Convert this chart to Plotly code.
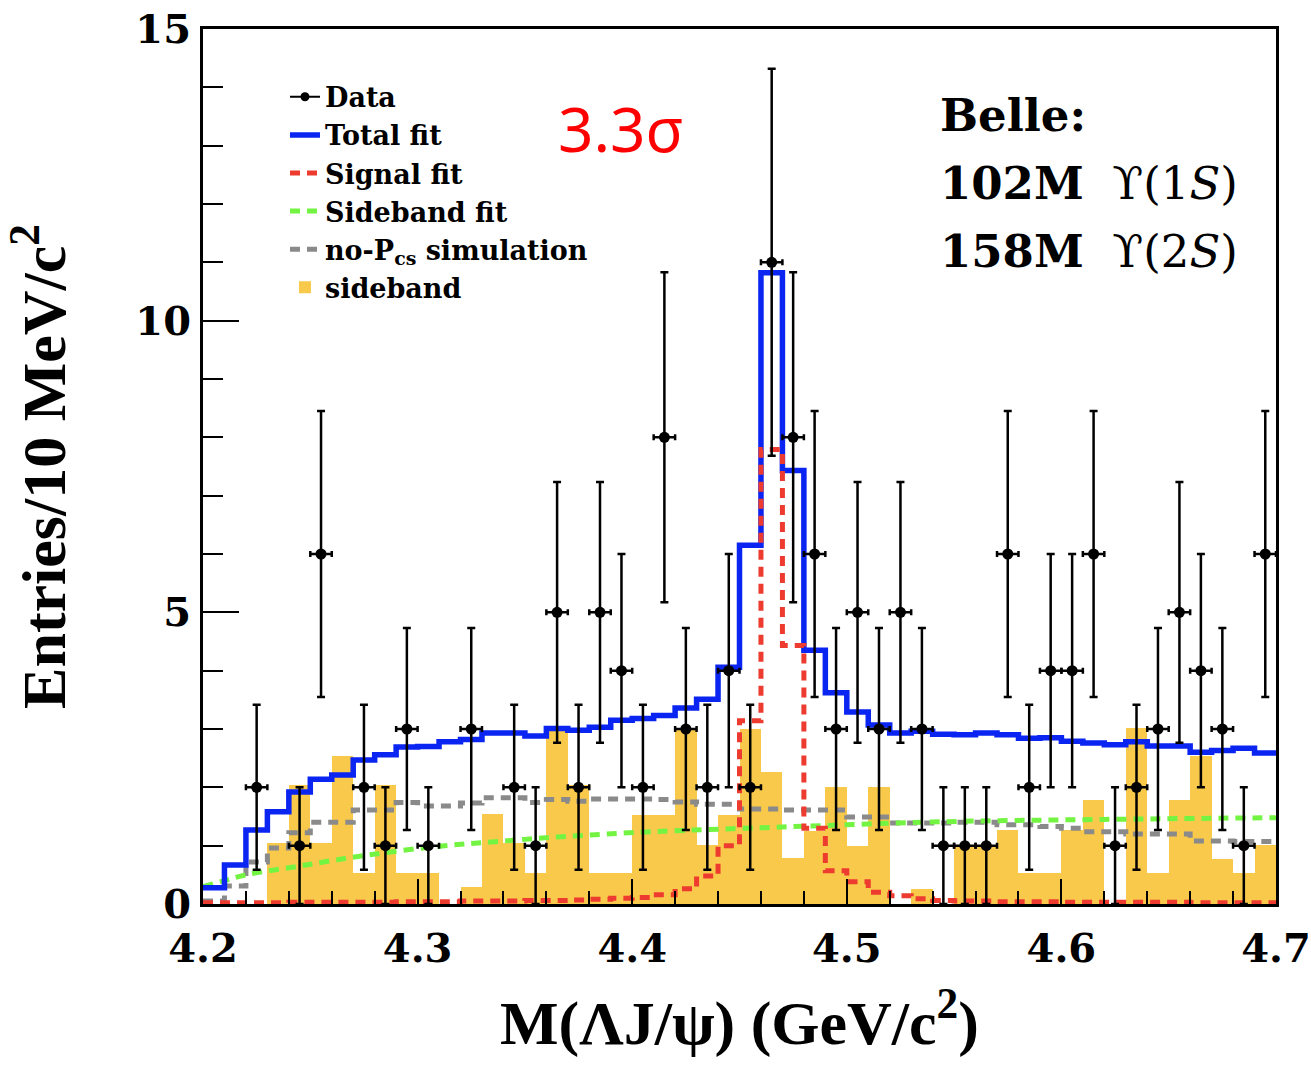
import plotly.graph_objects as go

# ---------------- data ----------------
bin_lo = 4.20
bin_w = 0.01
n_bins = 50

data_counts = [0, 0, 2, 0, 1, 6, 0, 2, 1, 3,
               1, 0, 3, 0, 2, 1, 5, 2, 5, 4,
               2, 8, 3, 2, 4, 2, 11, 8, 6, 3,
               5, 3, 5, 3, 1, 1, 1, 6, 2, 4,
               4, 6, 1, 2, 3, 5, 4, 3, 1, 6]

total_fit = [0.28, 0.67, 1.27, 1.58, 1.92, 2.14, 2.21, 2.47, 2.56, 2.69,
             2.70, 2.78, 2.82, 2.93, 2.93, 2.88, 3.01, 2.98, 3.03, 3.15,
             3.18, 3.23, 3.36, 3.51, 4.06, 6.15, 10.82, 7.43, 4.35, 3.62,
             3.29, 3.07, 2.93, 2.96, 2.91, 2.90, 2.93, 2.90, 2.84, 2.85,
             2.79, 2.76, 2.73, 2.78, 2.71, 2.71, 2.60, 2.63, 2.67, 2.59]

signal_fit = [0.02, 0.02, 0.02, 0.02, 0.03, 0.03, 0.03, 0.03, 0.03, 0.04,
              0.04, 0.04, 0.05, 0.05, 0.05, 0.06, 0.06, 0.07, 0.08, 0.10,
              0.11, 0.16, 0.26, 0.48, 1.00, 3.14, 7.79, 4.43, 1.30, 0.57,
              0.38, 0.20, 0.14, 0.09, 0.06, 0.05, 0.05, 0.04, 0.04, 0.04,
              0.03, 0.03, 0.03, 0.03, 0.03, 0.03, 0.02, 0.02, 0.02, 0.02]

nopcs_sim = [0.05, 0.31, 0.72, 0.96, 1.22, 1.40, 1.40, 1.61, 1.61, 1.74,
             1.68, 1.68, 1.73, 1.82, 1.82, 1.74, 1.79, 1.76, 1.80, 1.80,
             1.80, 1.79, 1.75, 1.71, 1.71, 1.63, 1.63, 1.61, 1.61, 1.61,
             1.49, 1.49, 1.39, 1.39, 1.39, 1.40, 1.40, 1.36, 1.36, 1.33,
             1.30, 1.24, 1.24, 1.20, 1.20, 1.20, 1.08, 1.08, 1.07, 1.07]

sideband = [0, 0, 0, 1.05, 2.04, 1.05, 2.54, 0.54, 2.04, 0.54,
            0.54, 0, 0.30, 1.54, 1.05, 0.54, 2.96, 2.04, 0.54, 0.54,
            1.52, 1.52, 3.01, 1.02, 1.52, 3.00, 2.26, 0.79, 1.26, 2.00,
            1.00, 2.00, 0, 0.26, 0, 1.00, 1.00, 1.27, 0.53, 0.53,
            1.27, 1.78, 0, 3.02, 0.53, 1.78, 2.54, 0.78, 0.53, 1.02]

sbfit_mass = [4.200, 4.210, 4.220, 4.245, 4.275, 4.310, 4.340, 4.370,
              4.410, 4.470, 4.545, 4.620, 4.700]
sbfit_vals = [0.30, 0.40, 0.50, 0.65, 0.83, 0.99, 1.08, 1.16,
              1.24, 1.32, 1.41, 1.45, 1.48]

x_ticks = [4.2, 4.3, 4.4, 4.5, 4.6, 4.7]
x_ticktext = ["4.2", "4.3", "4.4", "4.5", "4.6", "4.7"]
y_ticks = [0, 5, 10, 15]
y_ticktext = ["0", "5", "10", "15"]

# ---------------- derived positions ----------------
edges = [round(bin_lo + i * bin_w, 4) for i in range(n_bins + 1)]
centers = [round(bin_lo + (i + 0.5) * bin_w, 4) for i in range(n_bins)]

def step_y(v):
    return list(v) + [v[-1]]

pts_x = [c for c, n in zip(centers, data_counts) if n > 0]
pts_y = [n for n in data_counts if n > 0]
pts_err = [n ** 0.5 for n in pts_y]

BLUE = "#0A24F2"
RED = "#EE3B30"
GREEN = "#74F442"
GRAY = "#8A8A8A"
ORANGE = "#F8C94A"
DASH = "10px,7px"

fig = go.Figure()

fig.add_trace(go.Bar(
    x=centers, y=sideband, width=bin_w, name="sideband",
    marker=dict(color=ORANGE, line=dict(width=0)), legendrank=6,
))
fig.add_trace(go.Scatter(
    x=edges, y=step_y(nopcs_sim), mode="lines", line_shape="hv",
    line=dict(color=GRAY, width=5, dash=DASH),
    name="no-P<sub>cs</sub> simulation", legendrank=5,
))
fig.add_trace(go.Scatter(
    x=sbfit_mass, y=sbfit_vals, mode="lines", line_shape="spline",
    line=dict(color=GREEN, width=5, dash=DASH),
    name="Sideband fit", legendrank=4,
))
fig.add_trace(go.Scatter(
    x=edges, y=step_y(total_fit), mode="lines", line_shape="hv",
    line=dict(color=BLUE, width=5.5),
    name="Total fit", legendrank=2,
))
fig.add_trace(go.Scatter(
    x=edges, y=step_y(signal_fit), mode="lines", line_shape="hv",
    line=dict(color=RED, width=5, dash=DASH),
    name="Signal fit", legendrank=3,
))
fig.add_trace(go.Scatter(
    x=pts_x, y=pts_y, mode="markers", showlegend=False,
    marker=dict(color="black", size=11, symbol="circle"),
    error_x=dict(type="constant", value=bin_w / 2, color="black",
                 thickness=2.5, width=3),
    error_y=dict(type="data", array=pts_err, color="black",
                 thickness=2.5, width=4),
))
# legend entry for data (line + marker like ROOT)
fig.add_trace(go.Scatter(
    x=[None], y=[None], mode="lines+markers", name="Data",
    line=dict(color="black", width=2),
    marker=dict(color="black", size=9), legendrank=1,
))

TICKFONT = dict(family="DejaVu Serif", size=40, color="black", weight="bold")
TITLEFONT = dict(family="Liberation Serif", size=62, color="black", weight="bold")

fig.update_layout(
    width=1311, height=1068,
    margin=dict(l=203, r=35, t=29, b=164, autoexpand=False),
    paper_bgcolor="white", plot_bgcolor="white",
    barmode="overlay", bargap=0,
    showlegend=True,
    legend=dict(
        x=0.0764, y=0.950, xanchor="left", yanchor="top",
        bgcolor="rgba(0,0,0,0)", borderwidth=0,
        font=dict(family="DejaVu Serif", size=27, color="black", weight="bold"),
        tracegroupgap=0, itemwidth=30,
    ),
    xaxis=dict(
        range=[4.2, 4.7], tickvals=x_ticks, ticktext=x_ticktext,
        ticks="inside", ticklen=25, tickwidth=2, tickcolor="black",
        minor=dict(dtick=0.02, tick0=4.2, ticks="inside", ticklen=13,
                   tickwidth=2, tickcolor="black"),
        showline=True, linewidth=3, linecolor="black", mirror=True,
        showgrid=False, zeroline=False, automargin=False,
        tickfont=TICKFONT, ticklabelstandoff=7,
        title=dict(text="M(ΛJ/ψ) (GeV/c<sup>2</sup>)", font=TITLEFONT, standoff=31),
    ),
    yaxis=dict(
        range=[0, 15], tickvals=y_ticks, ticktext=y_ticktext,
        ticks="inside", ticklen=36, tickwidth=2, tickcolor="black",
        minor=dict(dtick=1, tick0=0, ticks="inside", ticklen=20,
                   tickwidth=2, tickcolor="black"),
        showline=True, linewidth=3, linecolor="black", mirror=True,
        showgrid=False, zeroline=False, automargin=False,
        tickfont=TICKFONT, ticklabelstandoff=1,
        title=dict(text="Entries/10 MeV/c<sup>2</sup>", font=TITLEFONT, standoff=50),
    ),
    annotations=[
        dict(text="3.3σ", x=0.39, y=0.887, xref="paper", yref="paper",
             showarrow=False, xanchor="center", yanchor="middle",
             font=dict(family="Noto Sans", size=62, color="#FF0000")),
        dict(text="<b>Belle:</b>", x=0.685, y=0.901, xref="paper", yref="paper",
             showarrow=False, xanchor="left", yanchor="middle",
             font=dict(family="DejaVu Serif", size=45, color="black")),
        dict(text="<b>102M</b>\u00a0\u00a0ϒ(1<i>S</i>)", x=0.685, y=0.824,
             xref="paper", yref="paper",
             showarrow=False, xanchor="left", yanchor="middle",
             font=dict(family="DejaVu Serif", size=45, color="black")),
        dict(text="<b>158M</b>\u00a0\u00a0ϒ(2<i>S</i>)", x=0.685, y=0.746,
             xref="paper", yref="paper",
             showarrow=False, xanchor="left", yanchor="middle",
             font=dict(family="DejaVu Serif", size=45, color="black")),
    ],
)

fig.write_html("out.html")
